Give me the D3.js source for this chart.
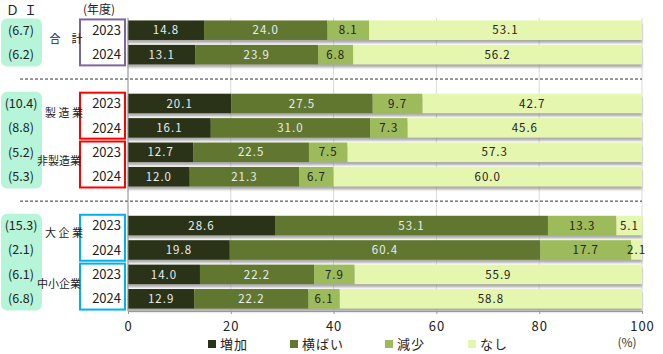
<!DOCTYPE html>
<html>
<head>
<meta charset="utf-8">
<script src="https://cdn.jsdelivr.net/npm/d3@7/dist/d3.min.js"></script>
<style>
body { margin: 0; background: #fff; }
text { font-family: "Noto Sans CJK JP", "DejaVu Sans", sans-serif; }
</style>
</head>
<body>
<svg width="663" height="354"></svg>
<script>
var svg = d3.select("svg");

// categories and values
let series = ["増加", "横ばい", "減少", "なし"];
let groups = ["合計", "製造業", "非製造業", "大企業", "中小企業"];
let years = ["2023", "2024"];
let rowSlots = [0, 1, 3, 4, 5, 6, 8, 9, 10, 11];
let increase = [14.8, 13.1, 20.1, 16.1, 12.7, 12.0, 28.6, 19.8, 14.0, 12.9];
let flat     = [24.0, 23.9, 27.5, 31.0, 22.5, 21.3, 53.1, 60.4, 22.2, 22.2];
let decrease = [8.1, 6.8, 9.7, 7.3, 7.5, 6.7, 13.3, 17.7, 7.9, 6.1];
let none     = [53.1, 56.2, 42.7, 45.6, 57.3, 60.0, 5.1, 2.1, 55.9, 58.8];
let di = ["(6.7)", "(6.2)", "(10.4)", "(8.8)", "(5.2)", "(5.3)", "(15.3)", "(2.1)", "(6.1)", "(6.8)"];
let xTicks = [0, 20, 40, 60, 80, 100];

let colors = ["#2a3317", "#61772f", "#9dbb5b", "#e5f6ae"];
let labelColors = ["#e8ecf4", "#e8ecf4", "#222", "#222"];

let x = d3.scaleLinear().domain([0, 100]).range([128, 642]);
let y = d3.scaleBand().domain(d3.range(12)).range([18, 311]).paddingInner(0.2).paddingOuter(0.1);

let rows = rowSlots.map((s, i) => ({
  slot: s,
  year: years[i % 2],
  di: di[i],
  values: [increase[i], flat[i], decrease[i], none[i]]
}));

// shadow filter
let defs = svg.append("defs");
defs.append("filter").attr("id", "blur")
  .append("feGaussianBlur").attr("stdDeviation", 1);

// gridlines
svg.append("g").selectAll("line")
  .data(xTicks.slice(1))
  .enter().append("line")
  .attr("x1", d => x(d)).attr("x2", d => x(d))
  .attr("y1", 18).attr("y2", 311)
  .attr("stroke", "#d9d9d9");

// dashed separators
[2, 7].forEach(s => {
  let yy = y(s) + y.bandwidth() / 2;
  svg.append("line")
    .attr("x1", 20).attr("x2", 642)
    .attr("y1", yy).attr("y2", yy)
    .attr("stroke", "#333").attr("stroke-dasharray", "3,2");
});

// bars
let rowG = svg.append("g").selectAll("g")
  .data(rows).enter().append("g")
  .attr("transform", d => `translate(0,${y(d.slot)})`);

rowG.append("rect")
  .attr("x", x(0)).attr("y", 3)
  .attr("width", x(100) - x(0)).attr("height", y.bandwidth())
  .attr("fill", "#888").attr("opacity", 0.7)
  .attr("filter", "url(#blur)");

rowG.each(function (d) {
  let g = d3.select(this);
  let acc = 0;
  d.values.forEach((v, k) => {
    let x0 = x(acc), x1 = x(acc + v);
    g.append("rect")
      .attr("x", x0).attr("y", 0)
      .attr("width", x1 - x0).attr("height", y.bandwidth())
      .attr("fill", colors[k]);
    g.append("text")
      .attr("x", (x0 + x1) / 2).attr("y", y.bandwidth() / 2)
      .attr("dy", "0.36em")
      .attr("text-anchor", "middle")
      .attr("font-size", 11.5)
      .attr("letter-spacing", 1)
      .attr("fill", labelColors[k])
      .text(v.toFixed(1));
    acc += v;
  });
});

// axes
svg.append("line")
  .attr("x1", x(0)).attr("x2", x(0))
  .attr("y1", 18).attr("y2", 311)
  .attr("stroke", "#888");

let xAxis = svg.append("g")
  .attr("transform", "translate(0,311)")
  .call(d3.axisBottom(x).tickValues(xTicks).tickSize(3).tickPadding(8));
xAxis.select(".domain").attr("stroke", "#999");
xAxis.selectAll(".tick line").attr("stroke", "#999");
xAxis.selectAll("text").attr("font-size", 13).attr("fill", "#222")
  .attr("letter-spacing", 1)
  .style("font-family", "\"Noto Sans CJK JP\", sans-serif");

svg.append("text").attr("x", 627).attr("y", 347)
  .attr("text-anchor", "middle").attr("font-size", 12).attr("fill", "#333")
  .text("(%)");

// DI panel
let diBoxes = [[0, 1], [3, 6], [8, 11]];
svg.append("g").selectAll("rect")
  .data(diBoxes).enter().append("rect")
  .attr("x", 1).attr("width", 41)
  .attr("y", d => y(d[0]) - 2)
  .attr("height", d => y(d[1]) + y.bandwidth() - y(d[0]) + 4)
  .attr("rx", 6)
  .attr("fill", "#b6f5da");

svg.append("g").selectAll("text")
  .data(rows).enter().append("text")
  .attr("x", 21).attr("y", d => y(d.slot) + y.bandwidth() / 2)
  .attr("dy", "0.36em").attr("text-anchor", "middle")
  .attr("font-size", 12.5).attr("fill", "#222")
  .text(d => d.di);

svg.append("text").attr("x", 24).attr("y", 15)
  .attr("text-anchor", "middle").attr("font-size", 13).attr("fill", "#222")
  .attr("letter-spacing", "5")
  .text("ＤＩ");

svg.append("text").attr("x", 99).attr("y", 14)
  .attr("text-anchor", "middle").attr("font-size", 12).attr("fill", "#222")
  .text("(年度)");

// year boxes
let boxColors = ["#7d659e", "#ff0000", "#ff0000", "#00b0f0", "#00b0f0"];
let groupSlots = [[0, 1], [3, 4], [5, 6], [8, 9], [10, 11]];
svg.append("g").selectAll("rect")
  .data(groupSlots).enter().append("rect")
  .attr("x", 80).attr("width", 45)
  .attr("y", d => y(d[0]) - 1)
  .attr("height", d => y(d[1]) + y.bandwidth() - y(d[0]) + 2)
  .attr("fill", "#fff")
  .attr("stroke", (d, i) => boxColors[i])
  .attr("stroke-width", 2);

svg.append("g").selectAll("text")
  .data(rows).enter().append("text")
  .attr("x", 121).attr("y", d => y(d.slot) + y.bandwidth() / 2)
  .attr("dy", "0.36em").attr("text-anchor", "end")
  .attr("font-size", 13).attr("fill", "#222")
  .text(d => d.year);

// group names
let groupLabels = ["合　計", "製 造 業", "非製造業", "大 企 業", "中小企業"];
let groupX = [66, 64, 59, 64, 59];
let groupY = [43, 117, 165, 237, 288];
svg.append("g").selectAll("text")
  .data(groupLabels).enter().append("text")
  .attr("x", (d, i) => groupX[i]).attr("y", (d, i) => groupY[i])
  .attr("text-anchor", "middle").attr("font-size", 11).attr("fill", "#222")
  .text(d => d);

// legend
let legendX = [208, 290, 385, 468];
let leg = svg.append("g").selectAll("g")
  .data(series).enter().append("g")
  .attr("transform", (d, i) => `translate(${legendX[i]},340)`);
leg.append("rect").attr("width", 8).attr("height", 8)
  .attr("fill", (d, i) => colors[i]);
leg.append("text").attr("x", 12).attr("y", 4).attr("dy", "0.36em")
  .attr("font-size", 13).attr("fill", "#222")
  .attr("letter-spacing", 1)
  .text(d => d);
</script>
</body>
</html>
